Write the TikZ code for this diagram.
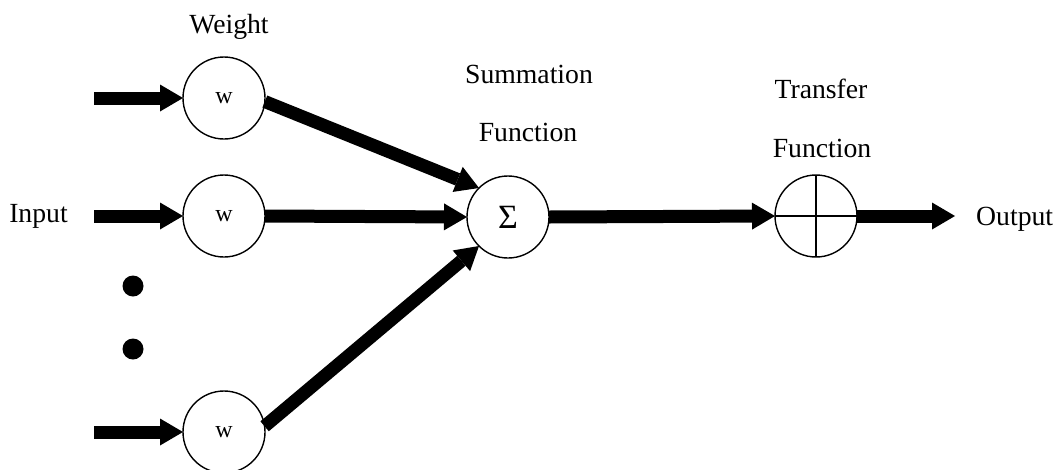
\documentclass[tikz,border=0pt]{standalone}
\usepackage{fontspec}
\setmainfont{Liberation Serif}
\usetikzlibrary{arrows.meta}
\begin{document}
\begin{tikzpicture}[x=1pt,y=-1pt,
  unit/.style={circle,draw,line width=1.4pt,minimum size=82pt,inner sep=0pt,outer sep=0pt},
  flow/.style={line width=13pt,-{Triangle[length=23pt,width=27pt,line width=0pt]}},
  lbl/.style={anchor=base,inner sep=0pt,font=\fontsize{27.7}{33}\selectfont},
  wlbl/.style={font=\fontsize{24}{28}\selectfont},
  dotmark/.style={circle,fill,minimum size=21pt,inner sep=0pt}]
\useasboundingbox (0,0) rectangle (1056,469);

% weights, summation and transfer units
\node[unit,wlbl] (w1) at (224,98) {w};
\node[unit,wlbl] (w2) at (224,216) {w};
\node[unit,wlbl] (w3) at (224,432) {w};
\node[unit,font=\fontsize{34}{38}\selectfont] (sum) at (508,217) {Σ};
\node[unit] (tf) at (816,216) {};
\draw[line width=1.4pt] (tf.north) -- (tf.south) (tf.west) -- (tf.east);

% free ends of the input and output arrows
\coordinate (in1) at (94,98);
\coordinate (in2) at (94,216);
\coordinate (in3) at (94,432);
\coordinate (out) at (955,216);

% ellipsis dots between the inputs
\node[dotmark] (d1) at (133,286) {};
\node[dotmark] (d2) at (133,349) {};

% labels
\node[lbl] (tw) at (229,33) {Weight};
\node[lbl] (tin) at (38.5,222) {Input};
\node[lbl] (ts1) at (529,83) {Summation};
\node[lbl] (ts2) at (528,141) {Function};
\node[lbl] (tt1) at (821,98) {Transfer};
\node[lbl] (tt2) at (822,157) {Function};
\node[lbl,anchor=base west] (tout) at (976,225) {Output};

% connections
\draw[flow] (in1) -- (w1.west);
\draw[flow] (in2) -- (w2.west);
\draw[flow] (in3) -- (w3.west);
\draw[flow] (w1.-5) -- (sum.135);
\draw[flow] (w2.east) -- (sum.west);
\draw[flow] (w3.8) -- (sum.225);
\draw[flow] (sum.east) -- (tf.west);
\draw[flow] (tf.east) -- (out);
\end{tikzpicture}
\end{document}
